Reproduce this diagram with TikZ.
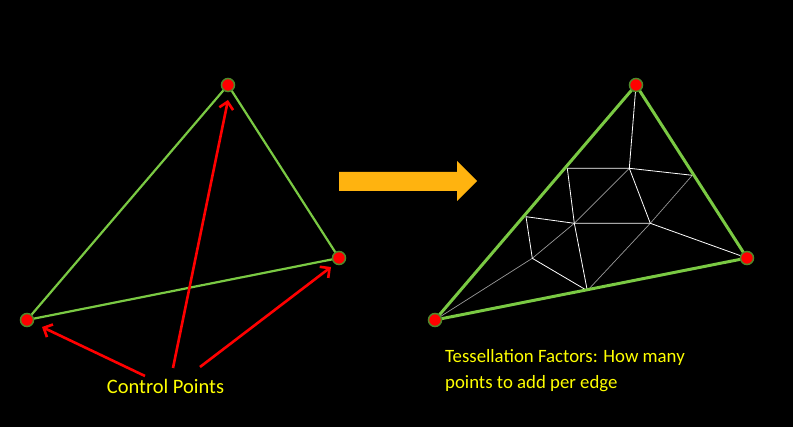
\documentclass[tikz,border=0pt]{standalone}
\usepackage{fontspec}
\setmainfont{Carlito}
\usetikzlibrary{arrows.meta}
\definecolor{tgreen}{HTML}{7AC943}
\definecolor{dgreen}{HTML}{4E8A2A}
\definecolor{tyellow}{HTML}{FFFF00}
\definecolor{torange}{HTML}{FFB30F}
\begin{document}
\begin{tikzpicture}[x=1pt,y=-1pt,
  cp/.style={circle,fill=red,draw=dgreen,line width=1.5pt,minimum size=13pt,inner sep=0pt},
  edgeL/.style={tgreen,line width=2.2pt},
  edgeR/.style={tgreen,line width=3pt},
  mesh/.style={white,line width=0.8pt},
  meshg/.style={gray!80!white,line width=0.7pt},
  redarr/.style={red,line width=2.6pt,-{Straight Barb[length=7pt,width=14pt,line width=2.6pt]}},
  lbl/.style={text=tyellow,inner sep=0pt}]
\fill[black] (0,0) rectangle (793,427);
\useasboundingbox (0,0) rectangle (793,427);
% left triangle
\coordinate (lt) at (228,85);
\coordinate (lr) at (339,258);
\coordinate (ll) at (27,320);
\draw[edgeL] (lt) -- (lr) -- (ll) -- cycle;
\node[cp] (nlt) at (lt) {};
\node[cp] (nlr) at (lr) {};
\node[cp] (nll) at (ll) {};
\node[lbl,font=\fontsize{20.5}{26}\selectfont] (cpl) at (165.5,386) {Control Points};
\coordinate (s1) at (145,376);
\coordinate (s2) at (173,368);
\coordinate (s3) at (200,367);
\coordinate (e1) at (42,327);
\coordinate (e2) at (228,100);
\coordinate (e3) at (331,267);
\draw[redarr] (s1) -- (e1);
\draw[redarr] (s2) -- (e2);
\draw[redarr] (s3) -- (e3);
% orange arrow
\fill[torange] (339,172) -- (457,172) -- (457,161) -- (477,181) -- (457,201) -- (457,191) -- (339,191) -- cycle;
% right triangle
\coordinate (T) at (636,85);
\coordinate (R) at (747,258);
\coordinate (L) at (435,320);
\coordinate (A) at (567.3,168.3);
\coordinate (B) at (629.3,168.3);
\coordinate (C) at (692.3,175.3);
\coordinate (D) at (526,216.7);
\coordinate (E) at (574.3,223.3);
\coordinate (F) at (650.3,223.3);
\coordinate (G) at (532.3,258.3);
\coordinate (H) at (587.3,290.7);
\draw[meshg] (B) -- (E);
\draw[meshg] (C) -- (F);
\draw[meshg] (G) -- (E);
\draw[meshg] (F) -- (H);
\draw[meshg] (L) -- (G);
\draw[mesh] (T) -- (B);
\draw[mesh] (A) -- (B) -- (C);
\draw[mesh] (A) -- (E);
\draw[mesh] (B) -- (F);
\draw[mesh] (D) -- (E) -- (F) -- (R);
\draw[mesh] (D) -- (G) -- (H);
\draw[mesh] (E) -- (H);
\draw[edgeR] (T) -- (R) -- (L) -- cycle;
\node[cp] (nT) at (T) {};
\node[cp] (nR) at (R) {};
\node[cp] (nL) at (L) {};
\node[lbl,font=\fontsize{18.8}{26}\selectfont,anchor=north west,align=left] (tf) at (445,349) {Tessellation Factors: How many\\points to add per edge};
\end{tikzpicture}
\end{document}
